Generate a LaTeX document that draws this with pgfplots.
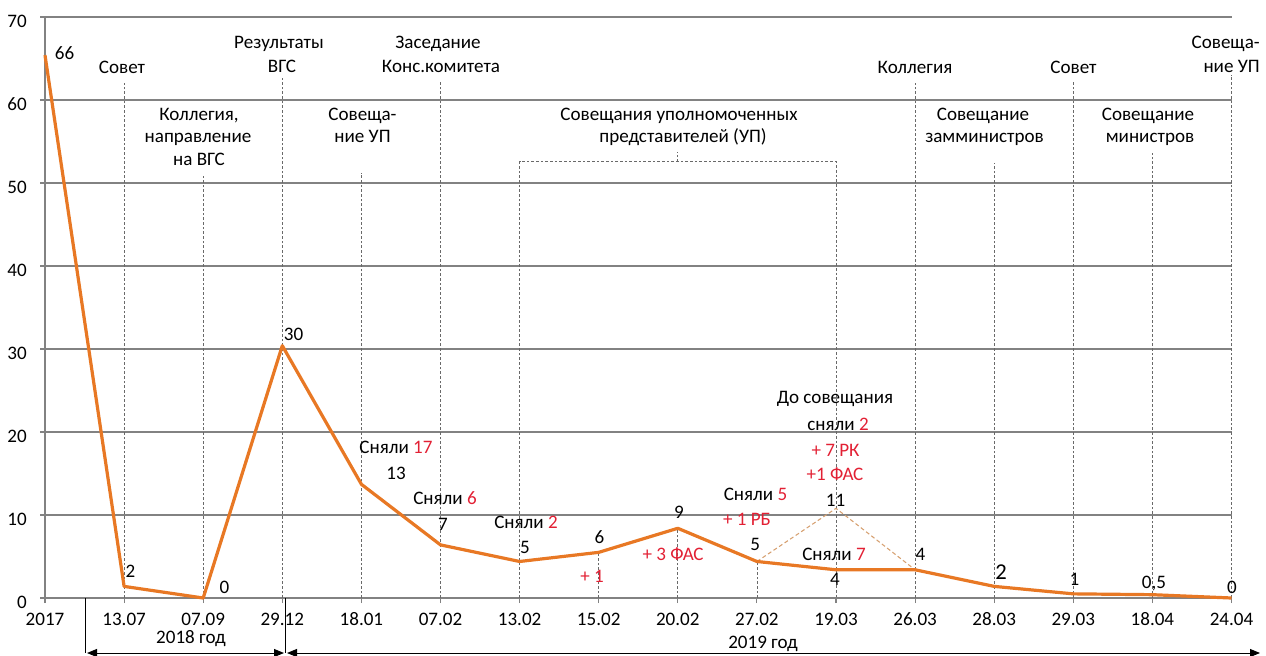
\documentclass[border=0pt]{standalone}
\usepackage{pgfplots}
\pgfplotsset{compat=1.18}
\usepackage{fontspec}
\setmainfont{Carlito}
\usetikzlibrary{arrows.meta}
\definecolor{lineorange}{RGB}{232,120,36}
\definecolor{gridgray}{RGB}{130,130,130}
\definecolor{guidegray}{RGB}{105,105,105}
\definecolor{annred}{RGB}{226,32,52}
\definecolor{lightorange}{RGB}{214,160,112}
\tikzset{guide/.style={guidegray, line width=0.6pt, dash pattern=on 2pt off 1.5pt}}
\newcommand{\fs}{\fontsize{14.3pt}{16pt}\selectfont}
\begin{document}
\begin{tikzpicture}
\path[use as bounding box] (0pt,0pt) rectangle (949.5pt,-492pt);
\begin{axis}[
  at={(33.75pt,-448.5pt)}, anchor=south west,
  x=59.325pt, y=6.225pt,
  xmin=0, xmax=15, ymin=0, ymax=70,
  clip=false,
  axis x line*=bottom, axis y line*=left,
  axis line style={draw=gridgray, line width=1.5pt, -},
  xtick={0,...,15},
  xticklabels={2017,13.07,07.09,29.12,18.01,07.02,13.02,15.02,20.02,27.02,19.03,26.03,28.03,29.03,18.04,24.04},
  ytick={0,10,...,70},
  ymajorgrids, grid style={draw=gridgray, line width=1.5pt},
  tick align=outside, major tick length=3.75pt,
  tick style={draw=gridgray, line width=0.8pt},
  /pgf/number format/assume math mode=true,
  ticklabel style={font=\fs, text=black, inner sep=0pt},
  xticklabel style={anchor=base, yshift=-17pt},
  yticklabel style={anchor=base east, xshift=-9.75pt, yshift=-8pt},
]
% guide lines
\draw[guide] (axis cs:1,0) -- (axis cs:1,62.05);
\draw[guide] (axis cs:2,0) -- (axis cs:2,50.84);
\draw[guide] (axis cs:3,0) -- (axis cs:3,62.65);
\draw[guide] (axis cs:4,0) -- (axis cs:4,51.2);
\draw[guide] (axis cs:5,0) -- (axis cs:5,62.17);
\draw[guide] (axis cs:6,0) -- (axis cs:6,52.55) -- (axis cs:10,52.55) -- (axis cs:10,0);
\draw[guide] (axis cs:8,52.55) -- (axis cs:8,53.7);
\draw[guide] (axis cs:7,0) -- (axis cs:7,5.5);
\draw[guide] (axis cs:8,0) -- (axis cs:8,8.4);
\draw[guide] (axis cs:9,0) -- (axis cs:9,4.4);
\draw[guide] (axis cs:11,0) -- (axis cs:11,62.05);
\draw[guide] (axis cs:12,0) -- (axis cs:12,52.4);
\draw[guide] (axis cs:13,0) -- (axis cs:13,62.4);
\draw[guide] (axis cs:14,0) -- (axis cs:14,53.6);
\draw[guide] (axis cs:15,0) -- (axis cs:15,63.0);
\addplot[lightorange, line width=0.8pt, dash pattern=on 3pt off 2pt, mark=none] coordinates {(9,4.4) (10,10.8) (11,3.4)};
\addplot[lineorange, line width=2.4pt, line join=round, mark=none] coordinates {
(0,65.4) (1,1.4) (2,0) (3,30.4) (4,13.7) (5,6.4) (6,4.4) (7,5.5) (8,8.4) (9,4.4) (10,3.4) (11,3.4) (12,1.4) (13,0.5) (14,0.4) (15,0)};
\end{axis}
\begin{scope}[x=0.75pt, y=-0.75pt, every node/.style={inner sep=0pt, anchor=base, font=\fs, text=black}]
% top annotations
\node at (122,73.5) {Совет};
\node at (279,49) {Результаты};
\node at (282,73) {ВГС};
\node at (199,120.7) {Коллегия,};
\node at (198,143) {направление};
\node at (199,165.7) {на ВГС};
\node at (362.5,120.7) {Совеща-};
\node at (362.5,143) {ние УП};
\node at (438,49) {Заседание};
\node at (441,73) {Конс.комитета};
\node at (679,120.7) {Совещания уполномоченных};
\node at (683,143) {представителей (УП)};
\node at (915,73.3) {Коллегия};
\node at (1073.5,73.3) {Совет};
\node[anchor=base east] at (1260,49) {Совеща-};
\node[anchor=base east] at (1260,73) {ние УП};
\node at (983,120.7) {Совещание};
\node at (984.5,143) {замминистров};
\node at (1148,120.7) {Совещание};
\node at (1150,143) {министров};
% value labels
\node at (64.5,60) {66};
\node at (130.5,577) {2};
\node at (224.5,593) {0};
\node at (293.5,340) {30};
\node at (396,453) {Сняли \textcolor{annred}{17}};
\node at (396,479) {13};
\node at (445,504) {Сняли \textcolor{annred}{6}};
\node at (443,530) {7};
\node at (526,528) {Сняли \textcolor{annred}{2}};
\node at (525,553) {5};
\node at (599.5,543) {6};
\node[text=annred] at (592,582) {+ 1};
\node at (679,518) {9};
\node[text=annred] at (673,560) {+ 3 ФАС};
\node at (755.5,500) {Сняли \textcolor{annred}{5}};
\node[text=annred] at (747,525) {+ 1 РБ};
\node at (755.3,550.7) {5};
\node at (835,403.3) {До совещания};
\node at (838,430) {сняли \textcolor{annred}{2}};
\node[text=annred] at (835.5,456) {+ 7 РК};
\node[text=annred] at (835,480) {+1 ФАС};
\node at (835.5,506) {11};
\node at (834,560) {Сняли \textcolor{annred}{7}};
\node at (835,585) {4};
\node at (920.5,560) {4};
\node[font=\fontsize{17pt}{19pt}\selectfont] at (1001,579) {2};
\node at (1074.5,585) {1};
\node at (1154,588) {0,5};
\node at (1232,593) {0};
% bottom
\node at (191,643) {2018 год};
\node at (763,648) {2019 год};
\draw[black, line width=0.75pt] (85,598) -- (85,653);
\draw[black, line width=0.75pt] (285.5,598) -- (285.5,653);
\draw[black, line width=0.75pt, {Triangle[length=7.5pt,width=6pt]}-{Triangle[length=7.5pt,width=6pt]}] (87,653) -- (284,653);
\draw[black, line width=0.75pt, {Triangle[length=7.5pt,width=6pt]}-{Triangle[length=7.5pt,width=6pt]}] (287,653) -- (1260,653);
\end{scope}
\end{tikzpicture}
\end{document}
